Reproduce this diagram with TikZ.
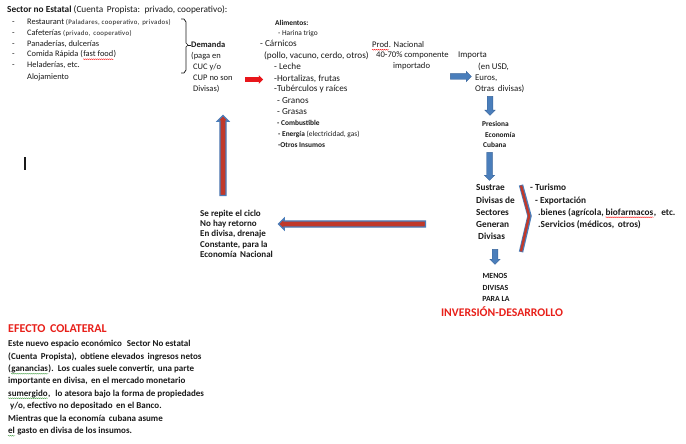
\documentclass[tikz,border=0pt]{standalone}
\usepackage{fontspec}
\setmainfont{Carlito}
\usetikzlibrary{shapes.arrows,decorations.pathmorphing}
\definecolor{ink}{HTML}{1A1A1A}
\definecolor{barrow}{HTML}{4A7EBB}
\definecolor{bdark}{HTML}{3A659A}
\definecolor{rfill}{HTML}{C0392B}
\definecolor{rbright}{HTML}{E8161B}
\definecolor{redtxt}{HTML}{E8201A}
\definecolor{wgreen}{HTML}{3C9A3C}
\newcommand\fs[1]{\fontsize{#1}{#1}\selectfont}
\newcommand\sm[1]{{\fs{6.8}\addfontfeatures{LetterSpace=5}#1}}
\tikzset{
  tx/.style={anchor=west, inner sep=0pt, text height=0.7em, text depth=0.2em, text=ink},
  tc/.style={anchor=center, inner sep=0pt, text height=0.7em, text depth=0.2em, text=ink},
  wv/.style={decorate, decoration={snake, segment length=2pt, amplitude=0.45pt}, line width=0.35pt},
  blockblue/.style={single arrow, draw=bdark, line width=0.4pt, fill=barrow, inner sep=2.6pt,
     single arrow head extend=2.4pt, single arrow head indent=0pt, minimum height=#1},
  blockmix/.style={single arrow, draw=barrow, line width=1.3pt, fill=rfill, inner sep=2.4pt,
     single arrow head extend=2.6pt, single arrow head indent=0pt, minimum height=#1},
  blockred/.style={single arrow, fill=rbright, inner sep=2.2pt,
     single arrow head extend=2pt, single arrow head indent=0pt, minimum height=#1},
}
\begin{document}
\begin{tikzpicture}[x=1pt,y=-1pt]
\useasboundingbox[fill=white] (0,0) rectangle (686,444);

% header
\node[tx, font=\fs{9.3}] (hdr) at (7,10) {\textbf{Sector no Estatal} (Cuenta\, Propista:\, privado, cooperativo):};

% list
\foreach \n/\yy in {1/22,2/33,3/44,4/54.5,5/65.5}{
  \node[tx, font=\fs{8.4}] (d\n) at (12,\yy) {-};
}
\node[tx, font=\fs{8.4}] (l1) at (27,22) {Restaurant \sm{(Paladares, cooperativo,\, privados)}};
\node[tx, font=\fs{8.4}] (l2) at (27,33) {Cafeterías \sm{(privado,\, cooperativo)}};
\node[tx, font=\fs{8.4}] (l3) at (27,44) {Panaderías, dulcerías};
\node[tx, font=\fs{8.4}] (l4) at (27,54.5) {Comida Rápida (};
\node[tx, font=\fs{8.4}] (l4b) at (l4.east) {fast food};
\node[tx, font=\fs{8.4}] (l4c) at (l4b.east) {)};
\draw[wv, red] (l4b.south west) -- (l4b.south east);
\node[tx, font=\fs{8.4}] (l5) at (27,65.5) {Heladerías, etc.};
\node[tx, font=\fs{8.4}] (l6) at (27,77) {Alojamiento};

% brace
\draw[ink, line width=0.7pt, line join=round] (181,19) -- (184,19) -- (186,22) -- (186,43) -- (188,45) -- (186,47) -- (186,70) -- (184,73) -- (181,73);
\coordinate (bt) at (188,45);

% demanda
\node[tx, font=\fs{8.5}] (dem) at (191,45) {\textbf{Demanda}};
\draw[ink, line width=0.7pt] (bt) -- (dem.west);
\node[tx, font=\fs{8.5}] (dem2) at (191,56) {(paga en};
\node[tx, font=\fs{8.5}] (dem3) at (193,67) {CUC y/o};
\node[tx, font=\fs{8.5}] (dem4) at (193,78) {CUP no son};
\node[tx, font=\fs{8.5}] (dem5) at (193,89) {Divisas)};

% red arrow
\node[blockred=18pt] (ra) at (253,79.5) {};

% alimentos
\node[tx, font=\fs{7.4}] (al0) at (275,23) {\textbf{Alimentos:}};
\node[tx, font=\fs{7.4}] (al1) at (278,33) {- Harina trigo};
\node[tx, font=\fs{9.2}] (al2) at (260,44.5) {- Cárnicos};
\node[tx, font=\fs{9.2}] (al3) at (264,56) {(pollo, vacuno, cerdo, otros)};
\node[tx, font=\fs{9.2}] (al4) at (274,67) {- Leche};
\node[tx, font=\fs{9.2}] (al5) at (274,79) {-Hortalizas, frutas};
\node[tx, font=\fs{9.2}] (al6) at (274,89.5) {-Tubérculos y raíces};
\node[tx, font=\fs{9.2}] (al7) at (277,101) {- Granos};
\node[tx, font=\fs{9.2}] (al8) at (277,112) {- Grasas};
\node[tx, font=\fs{7.4}] (al9) at (277,123) {\textbf{- Combustible}};
\node[tx, font=\fs{7.4}] (al10) at (278,134) {\textbf{- Energía} (electricidad, gas)};
\node[tx, font=\fs{7.4}] (al11) at (278,145) {\textbf{-Otros Insumos}};

% prod nacional
\node[tx, font=\fs{8.6}] (pn1a) at (372,45) {Prod};
\node[tx, font=\fs{8.6}] (pn1) at (pn1a.east) {. Nacional};
\draw[wv, red] (pn1a.south west) -- (pn1a.south east);
\node[tx, font=\fs{8.6}] (pn2) at (376,55.5) {40-70\% componente};
\node[tx, font=\fs{8.6}] (pn3) at (393,66.5) {importado};

% importa
\node[tx, font=\fs{8.8}] (im1) at (458,55.5) {Importa};
\node[tx, font=\fs{8.8}] (im2) at (478,67) {(en USD,};
\node[tx, font=\fs{8.8}] (im3) at (475,78.5) {Euros,};
\node[tx, font=\fs{8.8}] (im4) at (475,89.5) {Otras\, divisas)};

\node[blockblue=21pt] (ba1) at (459.5,76.5) {};
\node[blockblue=19pt, rotate=-90] (ba2) at (490,104.5) {};

% presiona
\node[tx, font=\fs{7.4}] (pr1) at (482,124) {\textbf{Presiona}};
\node[tx, font=\fs{7.4}] (pr2) at (485,134.5) {\textbf{Economía}};
\node[tx, font=\fs{7.4}] (pr3) at (483,145) {\textbf{Cubana}};

\node[blockblue=28pt, rotate=-90] (ba3) at (489.5,165) {};

% sustrae
\node[tx, font=\fs{9.3}] (su1) at (476,188) {\textbf{Sustrae}};
\node[tx, font=\fs{9.3}] (su2) at (476,200.5) {\textbf{Divisas de}};
\node[tx, font=\fs{9.3}] (su3) at (476,212.5) {\textbf{Sectores}};
\node[tx, font=\fs{9.3}] (su4) at (476,224.5) {\textbf{Generan}};
\node[tx, font=\fs{9.3}] (su5) at (478,237) {\textbf{Divisas}};

% chevron
\draw[barrow, line width=4.4pt, line join=miter] (521,185) -- (529.5,216) -- (521,252);
\draw[rfill, line width=2.4pt, line join=miter] (521,185.6) -- (529.1,216) -- (521,251.4);

% turismo
\node[tx, font=\fs{9.3}] (tu1) at (530,188) {\textbf{- Turismo}};
\node[tx, font=\fs{9.3}] (tu2) at (535,200.5) {\textbf{- Exportación}};
\node[tx, font=\fs{9.3}] (tu3) at (538,212.5) {\textbf{.bienes (agrícola,\,}};
\node[tx, font=\fs{9.3}] (tu3b) at (tu3.east) {\textbf{biofarmacos}};
\node[tx, font=\fs{9.3}] (tu3c) at (tu3b.east) {\textbf{,\,\, etc.}};
\draw[wv, red] (tu3b.south west) -- (tu3b.south east);
\node[tx, font=\fs{9.3}] (tu4) at (538,224.5) {\textbf{.Servicios (médicos,\, otros)}};

\node[blockblue=15pt, rotate=-90] (ba4) at (495,255.5) {};

% menos divisas
\node[tc, font=\fs{7.8}] (me1) at (495,276) {\textbf{MENOS}};
\node[tc, font=\fs{7.8}] (me2) at (495.5,288) {\textbf{DIVISAS}};
\node[tc, font=\fs{7.8}] (me3) at (496,299) {\textbf{PARA LA}};
\node[tc, font=\fs{11.7}, text=redtxt] (me4) at (502,314) {\textbf{INVERSIÓN-DESARROLLO}};

% left arrow
\node[blockmix=147pt, rotate=180] (la) at (353.5,224) {};

% se repite
\node[tx, font=\fs{9}] (sr1) at (200,214) {\textbf{Se repite el ciclo}};
\node[tx, font=\fs{9}] (sr2) at (200,224) {\textbf{No hay retorno}};
\node[tx, font=\fs{9}] (sr3) at (200,234) {\textbf{En divisa, drenaje}};
\node[tx, font=\fs{9}] (sr4) at (200,244.5) {\textbf{Constante, para la}};
\node[tx, font=\fs{9}] (sr5) at (200,254.5) {\textbf{Economía\, Nacional}};

% up arrow
\node[blockmix=80pt, rotate=90] (ua) at (223,157) {};

% cursor mark
\fill[ink] (24.3,157) rectangle (25.9,170);

% efecto colateral
\node[tx, font=\fs{12}, text=redtxt] (ef) at (8,330) {\textbf{EFECTO\, COLATERAL}};
\node[tx, font=\fs{9}] (b1) at (8,344) {\textbf{Este nuevo espacio económico\,\, Sector No estatal}};
\node[tx, font=\fs{9}] (b2) at (8,356.5) {\textbf{(Cuenta\, Propista),\, obtiene elevados\, ingresos netos}};
\node[tx, font=\fs{9}] (b3a) at (8,369) {\textbf{(}};
\node[tx, font=\fs{9}] (b3b) at (b3a.east) {\textbf{ganancias}};
\node[tx, font=\fs{9}] (b3) at (b3b.east) {\textbf{).\, Los cuales suele convertir,\, una parte}};
\draw[wv, wgreen] (b3b.south west) -- (b3b.south east);
\node[tx, font=\fs{9}] (b4) at (8,381) {\textbf{importante en divisa,\, en el mercado monetario}};
\node[tx, font=\fs{9}] (b5a) at (8,393.5) {\textbf{sumergido}};
\node[tx, font=\fs{9}] (b5) at (b5a.east) {\textbf{,\,\, lo atesora bajo la forma de propiedades}};
\draw[wv, wgreen] (b5a.south west) -- (b5a.south east);
\node[tx, font=\fs{9}] (b6) at (10,406) {\textbf{y/o, efectivo no depositado\, en el Banco.}};
\node[tx, font=\fs{9}] (b7) at (8,418.5) {\textbf{Mientras que la economía\, cubana asume}};
\node[tx, font=\fs{9}] (b8a) at (8,431) {\textbf{el}};
\node[tx, font=\fs{9}] (b8) at (b8a.east) {\textbf{\ gasto en divisa de los insumos.}};
\draw[wv, wgreen] (b8a.south west) -- (b8a.south east);
\end{tikzpicture}
\end{document}
